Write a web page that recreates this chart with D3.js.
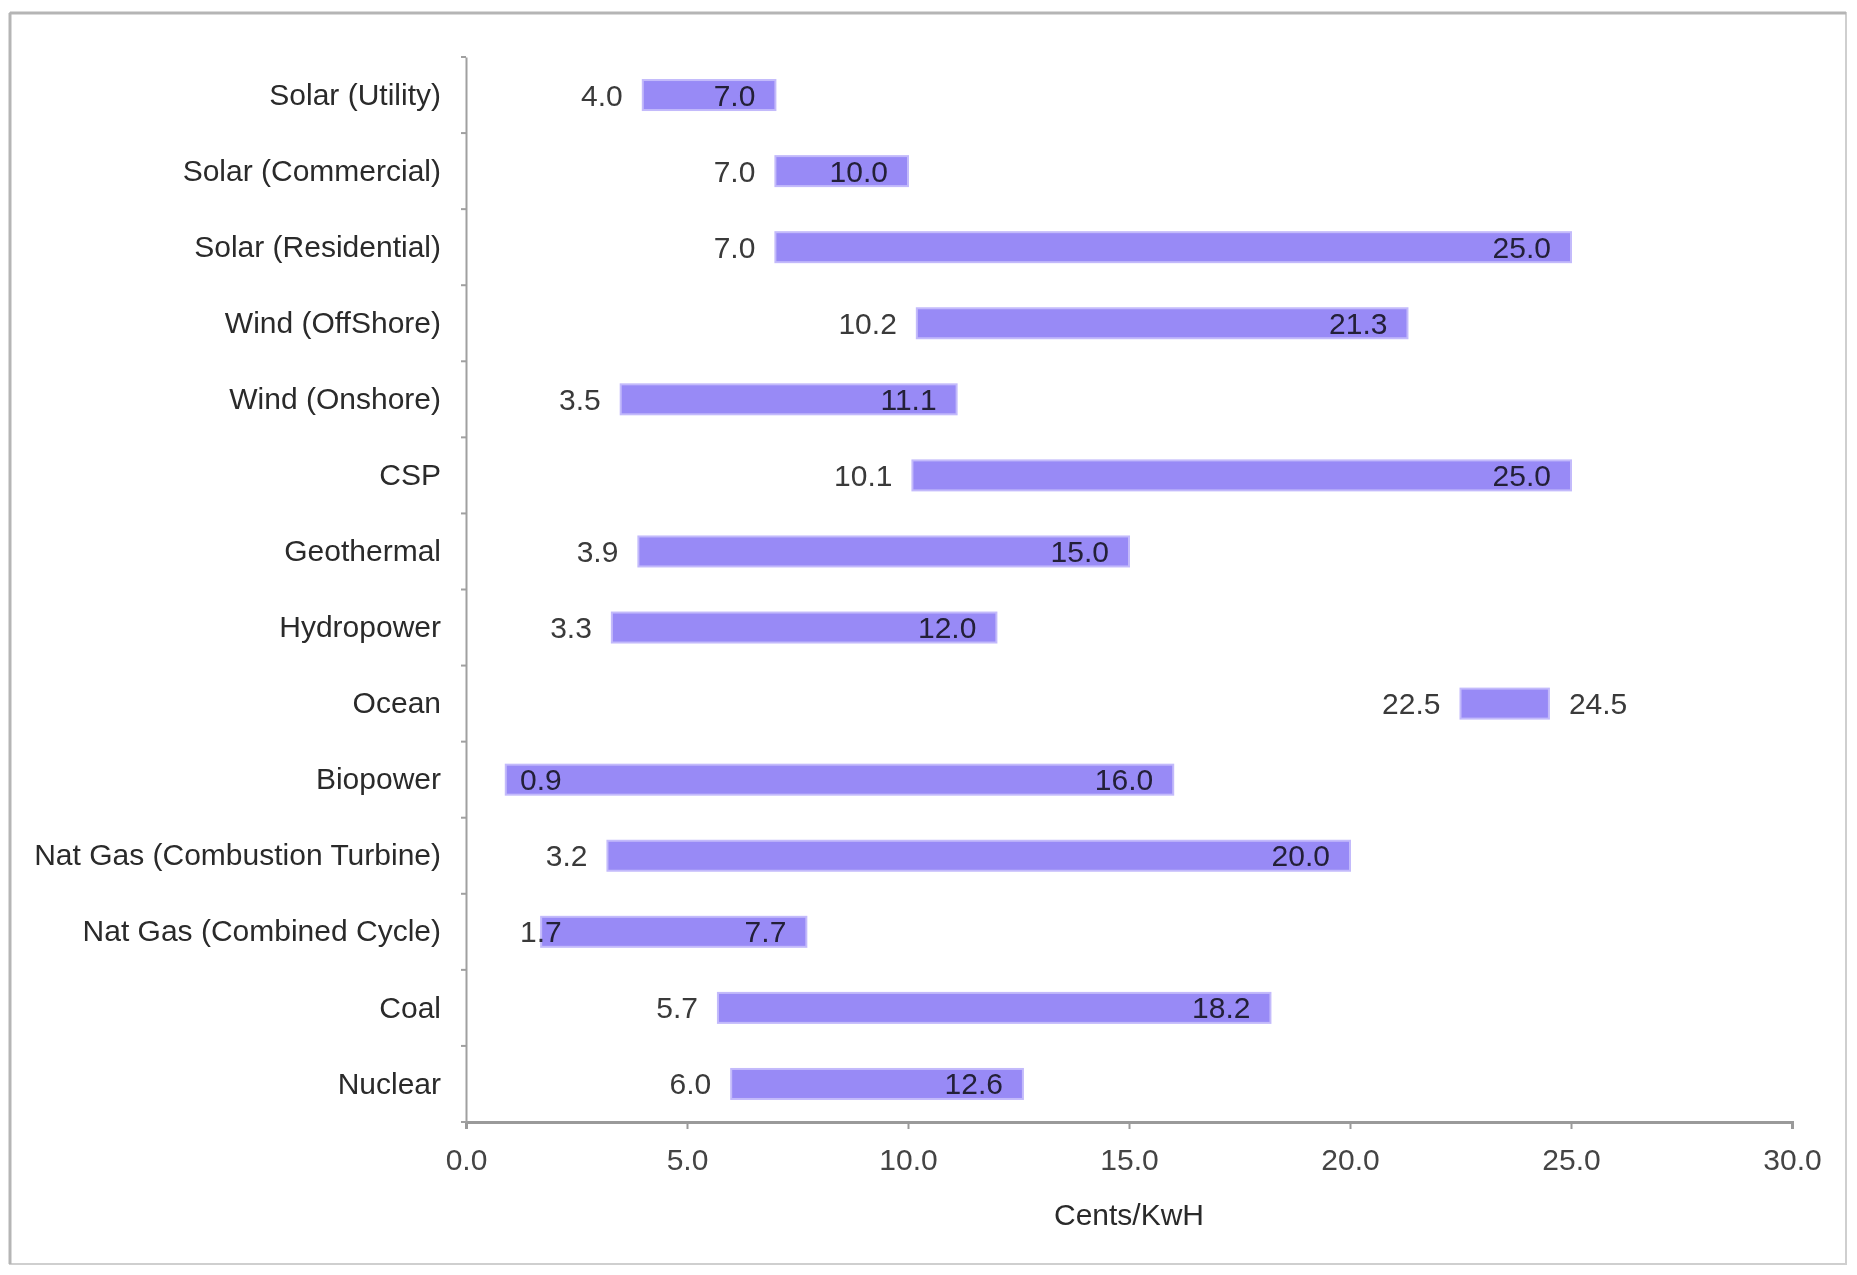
<!DOCTYPE html>
<html>
<head>
<meta charset="utf-8">
<script src="https://cdn.jsdelivr.net/npm/d3@7"></script>
<style>
  html, body { margin: 0; padding: 0; background: #fff; }
  svg { display: block; }
  text { font-family: "Liberation Sans", Arial, sans-serif; }
</style>
</head>
<body>
<svg id="chart" width="1857" height="1275"></svg>
<script>
// Levelized cost ranges by technology (cents per kWh)
const categories = [
  "Solar (Utility)", "Solar (Commercial)", "Solar (Residential)",
  "Wind (OffShore)", "Wind (Onshore)", "CSP", "Geothermal", "Hydropower",
  "Ocean", "Biopower", "Nat Gas (Combustion Turbine)",
  "Nat Gas (Combined Cycle)", "Coal", "Nuclear"
];
const lowValues  = [4.0, 7.0, 7.0, 10.2, 3.5, 10.1, 3.9, 3.3, 22.5, 0.9, 3.2, 1.7, 5.7, 6.0];
const highValues = [7.0, 10.0, 25.0, 21.3, 11.1, 25.0, 15.0, 12.0, 24.5, 16.0, 20.0, 7.7, 18.2, 12.6];
const xTicks = [0, 5, 10, 15, 20, 25, 30];
const xTitle = "Cents/KwH";

const rows = categories.map((c, i) => ({ name: c, lo: lowValues[i], hi: highValues[i] }));

const svg = d3.select("#chart");
const plot = { left: 466, right: 1792, top: 57, bottom: 1122 };
const fontSize = 30;
const labelGap = 20;

// outer frame
svg.append("rect").attr("x", 10).attr("y", 13).attr("width", 1836).attr("height", 1251)
  .attr("fill", "#fff").attr("stroke", "#cfcfcf").attr("stroke-width", 2);
svg.append("line").attr("x1", 10).attr("x2", 1846).attr("y1", 13).attr("y2", 13)
  .attr("stroke", "#b5b5b5").attr("stroke-width", 3);
svg.append("line").attr("x1", 10).attr("x2", 10).attr("y1", 13).attr("y2", 1264)
  .attr("stroke", "#b5b5b5").attr("stroke-width", 3);

const x = d3.scaleLinear().domain([0, 30]).range([plot.left, plot.right]);
const yStep = d3.scaleBand().domain(categories).range([plot.top, plot.bottom]);
const barH = 30;
const cy = d => yStep(d.name) + yStep.bandwidth() / 2;

// bars
const g = svg.append("g");
g.selectAll("rect.bar").data(rows).join("rect")
  .attr("class", "bar")
  .attr("x", d => x(d.lo))
  .attr("y", d => cy(d) - barH / 2)
  .attr("width", d => x(d.hi) - x(d.lo))
  .attr("height", barH)
  .attr("fill", "#988af6")
  .attr("stroke", "#c3bafb")
  .attr("stroke-width", 2);

// measure text width helper
const measurer = svg.append("text").attr("font-size", fontSize).attr("visibility", "hidden");
function tw(s) { measurer.text(s); return measurer.node().getComputedTextLength(); }

const labelStyle = sel => sel
  .attr("font-size", fontSize)
  .attr("fill", "#3a3a3a")
  .attr("dominant-baseline", "central")
  .style("mix-blend-mode", "multiply");

// low-value labels: sit left of the bar, but never crowd the axis
const minLeft = plot.left + 54;
g.selectAll("text.lo").data(rows).join("text")
  .attr("class", "lo")
  .call(labelStyle)
  .text(d => d.lo.toFixed(1))
  .attr("text-anchor", "start")
  .attr("x", d => Math.max(minLeft, x(d.lo) - labelGap - tw(d.lo.toFixed(1))))
  .attr("y", cy);

// high-value labels: inside the bar's end, or just past it when the bar is too short
g.selectAll("text.hi").data(rows).join("text")
  .attr("class", "hi")
  .call(labelStyle)
  .text(d => d.hi.toFixed(1))
  .each(function(d) {
    const w = tw(d.hi.toFixed(1));
    const fits = (x(d.hi) - x(d.lo)) >= w + 2 * labelGap;
    d3.select(this)
      .attr("text-anchor", fits ? "end" : "start")
      .attr("x", fits ? x(d.hi) - labelGap : x(d.hi) + labelGap);
  })
  .attr("y", cy);

// x axis
const xAxis = svg.append("g").attr("transform", `translate(0,${plot.bottom})`)
  .call(d3.axisBottom(x).tickValues(xTicks).tickFormat(d3.format(".1f")).tickSize(7).tickPadding(20));
xAxis.select(".domain").attr("stroke", "#9a9a9a").attr("stroke-width", 3);
xAxis.selectAll(".tick line").attr("stroke", "#9a9a9a").attr("stroke-width", 2);
xAxis.selectAll(".tick text").attr("font-size", fontSize).attr("fill", "#444")
  .attr("font-family", "'Liberation Sans', Arial, sans-serif");

// y axis
const yAxis = svg.append("g").attr("transform", `translate(${plot.left},0)`)
  .call(d3.axisLeft(yStep).tickSize(0).tickPadding(25));
yAxis.select(".domain").attr("stroke", "#a0a0a0").attr("stroke-width", 2);
yAxis.selectAll(".tick text").attr("font-size", fontSize).attr("fill", "#2a2a2a")
  .attr("font-family", "'Liberation Sans', Arial, sans-serif");
// small marks at category boundaries
yAxis.selectAll("line.bound").data(d3.range(categories.length + 1)).join("line")
  .attr("class", "bound")
  .attr("x1", -5).attr("x2", 0)
  .attr("y1", i => plot.top + i * yStep.step())
  .attr("y2", i => plot.top + i * yStep.step())
  .attr("stroke", "#a0a0a0").attr("stroke-width", 2);

// axis title
svg.append("text")
  .attr("x", (plot.left + plot.right) / 2)
  .attr("y", 1214)
  .attr("text-anchor", "middle")
  .attr("dominant-baseline", "central")
  .attr("font-size", fontSize)
  .attr("fill", "#2a2a2a")
  .text(xTitle);

measurer.remove();
</script>
</body>
</html>
